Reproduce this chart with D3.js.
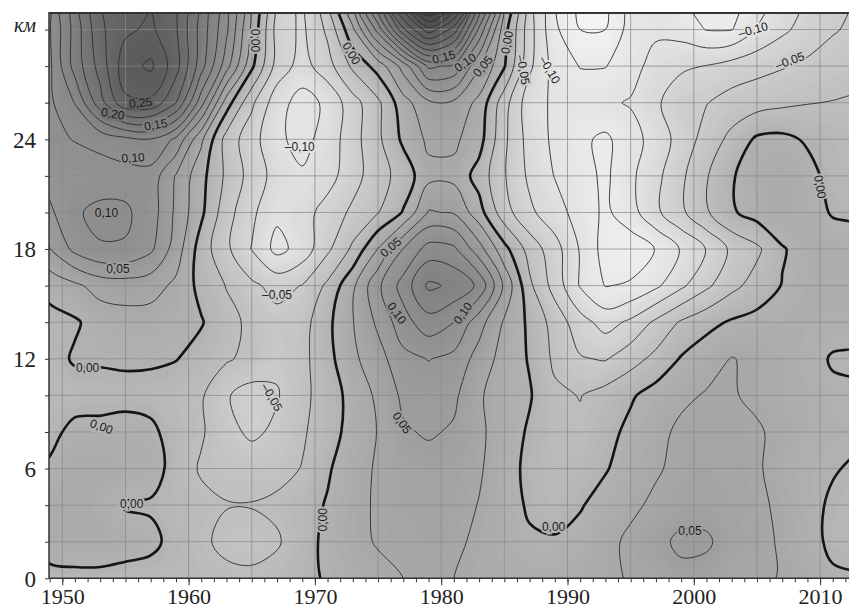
<!DOCTYPE html>
<html>
<head>
<meta charset="utf-8">
<script src="https://d3js.org/d3.v7.min.js"></script>
<style>
body { margin: 0; background: #fff; }
svg { display: block; }
</style>
</head>
<body>
<svg width="849" height="609"></svg>
<script>
// grid of anomaly values: one row per height (km), one column per year
const years = [1949, 1951, 1953, 1955, 1957, 1959, 1961, 1963, 1965, 1967, 1969, 1971, 1973, 1975, 1977, 1979, 1981,
               1983, 1985, 1987, 1989, 1991, 1993, 1995, 1997, 1999, 2001, 2003, 2005, 2007, 2009, 2011, 2013];
const heights = [0, 2, 4, 6, 8, 10, 12, 14, 16, 18, 20, 22, 24, 26, 28, 30, 32];

const h00 = [-0.010,-0.008,-0.008,-0.010,-0.010,-0.012,-0.015,-0.018,-0.020,-0.015,-0.005,0.002,0.012,0.018,0.025,0.027,0.025,0.018,0.015,0.013,0.012,0.015,0.020,0.027,0.032,0.042,0.040,0.030,0.028,0.024,0.015,0.004,0.002];
const h02 = [0.015,0.018,0.018,0.012,0.006,-0.008,-0.020,-0.032,-0.034,-0.028,-0.010,0.006,0.018,0.027,0.033,0.035,0.030,0.020,0.012,0.003,0.003,0.008,0.018,0.030,0.042,0.056,0.054,0.038,0.032,0.022,0.010,-0.006,-0.010];
const h04 = [0.015,0.020,0.012,-0.002,-0.003,-0.012,-0.018,-0.024,-0.024,-0.020,-0.010,0.002,0.018,0.028,0.035,0.038,0.035,0.024,0.010,-0.003,-0.012,-0.002,0.010,0.020,0.030,0.038,0.040,0.035,0.030,0.020,0.008,-0.004,-0.010];
const h06 = [0.004,0.018,0.020,0.015,0.012,-0.010,-0.028,-0.032,-0.035,-0.033,-0.024,-0.003,0.015,0.028,0.036,0.040,0.038,0.028,0.010,-0.006,-0.015,-0.012,-0.002,0.012,0.022,0.032,0.035,0.032,0.028,0.015,0.006,0.002,-0.004];
const h08 = [-0.008,0.008,0.008,0.010,0.006,-0.012,-0.022,-0.042,-0.055,-0.045,-0.028,-0.012,0.010,0.026,0.047,0.053,0.047,0.030,0.012,-0.003,-0.018,-0.020,-0.008,0.006,0.018,0.030,0.034,0.032,0.028,0.018,0.010,0.006,0.004];
const h10 = [-0.012,-0.012,-0.010,-0.008,-0.010,-0.015,-0.022,-0.048,-0.060,-0.052,-0.032,-0.012,0.008,0.030,0.055,0.060,0.055,0.028,0.012,0.002,-0.020,-0.026,-0.015,-0.003,0.010,0.020,0.027,0.027,0.020,0.015,0.010,0.004,0.003];
const h12 = [-0.010,0.003,0.003,0.004,0.004,0.001,-0.010,-0.022,-0.032,-0.045,-0.032,-0.008,0.020,0.040,0.068,0.076,0.068,0.040,0.015,-0.002,-0.030,-0.048,-0.052,-0.035,-0.018,0.002,0.015,0.026,0.020,0.015,0.008,-0.002,-0.004];
const h14 = [-0.008,-0.003,0.010,0.014,0.014,0.010,0.002,-0.018,-0.030,-0.042,-0.035,-0.006,0.024,0.055,0.090,0.115,0.100,0.060,0.022,-0.005,-0.035,-0.065,-0.085,-0.070,-0.045,-0.022,-0.008,0.003,0.008,0.010,0.010,0.009,0.008];
const h16 = [0.008,0.020,0.035,0.038,0.035,0.020,-0.008,-0.026,-0.045,-0.058,-0.049,-0.020,0.020,0.070,0.110,0.155,0.145,0.120,0.045,-0.020,-0.060,-0.102,-0.126,-0.122,-0.105,-0.080,-0.055,-0.032,-0.015,0.001,0.010,0.012,0.012];
const h18 = [0.049,0.082,0.098,0.098,0.080,0.038,-0.012,-0.045,-0.076,-0.108,-0.090,-0.055,-0.020,0.026,0.076,0.110,0.105,0.060,0.008,-0.035,-0.065,-0.102,-0.135,-0.140,-0.124,-0.098,-0.074,-0.045,-0.030,-0.002,0.010,0.012,0.012];
const h20 = [0.070,0.097,0.106,0.104,0.088,0.045,0.005,-0.040,-0.070,-0.095,-0.085,-0.065,-0.045,-0.026,0.002,0.052,0.048,0.010,-0.040,-0.070,-0.090,-0.110,-0.130,-0.110,-0.080,-0.055,-0.028,-0.003,0.010,0.018,0.010,-0.002,-0.006];
const h22 = [0.085,0.088,0.088,0.090,0.090,0.048,0.008,-0.030,-0.060,-0.085,-0.097,-0.085,-0.060,-0.035,-0.015,0.018,0.018,-0.010,-0.048,-0.080,-0.101,-0.115,-0.130,-0.105,-0.082,-0.055,-0.027,-0.002,0.012,0.018,0.008,-0.008,-0.012];
const h24 = [0.095,0.101,0.108,0.118,0.124,0.095,0.030,-0.035,-0.065,-0.095,-0.108,-0.090,-0.060,-0.030,0.005,0.030,0.030,0.010,-0.045,-0.085,-0.105,-0.120,-0.130,-0.110,-0.090,-0.065,-0.040,-0.018,0.004,0.006,-0.003,-0.010,-0.014];
const h26 = [0.095,0.126,0.190,0.245,0.245,0.201,0.110,0.012,-0.045,-0.090,-0.110,-0.095,-0.060,-0.030,0.015,0.045,0.045,0.018,-0.040,-0.090,-0.104,-0.110,-0.104,-0.098,-0.080,-0.056,-0.051,-0.040,-0.035,-0.030,-0.026,-0.024,-0.022];
const h28 = [0.095,0.160,0.210,0.265,0.280,0.235,0.160,0.085,0.005,-0.060,-0.085,-0.060,-0.020,0.010,0.060,0.130,0.120,0.052,0.002,-0.070,-0.110,-0.126,-0.126,-0.110,-0.090,-0.080,-0.074,-0.065,-0.058,-0.052,-0.045,-0.040,-0.036];
const h30 = [0.098,0.160,0.220,0.245,0.255,0.228,0.165,0.105,0.020,-0.060,-0.080,-0.045,0.020,0.110,0.220,0.290,0.240,0.120,0.010,-0.065,-0.120,-0.150,-0.150,-0.115,-0.105,-0.110,-0.126,-0.126,-0.099,-0.080,-0.065,-0.052,-0.045];
const h32 = [0.100,0.165,0.226,0.240,0.245,0.228,0.165,0.105,0.026,-0.060,-0.085,-0.030,0.070,0.200,0.330,0.450,0.360,0.200,0.040,-0.070,-0.126,-0.160,-0.160,-0.115,-0.110,-0.126,-0.140,-0.140,-0.115,-0.095,-0.074,-0.058,-0.049];

// axis ticks and grid
const kmTicks = [0, 2, 4, 6, 8, 10, 12, 14, 16, 18, 20, 22, 24, 26, 28, 30];
const kmLabels = [0, 6, 12, 18, 24];
const yearMinor = [1949, 1950, 1951, 1952, 1953, 1954, 1955, 1956, 1957, 1958, 1959, 1960, 1961, 1962, 1963, 1964, 1965,
                   1966, 1967, 1968, 1969, 1970, 1971, 1972, 1973, 1974, 1975, 1976, 1977, 1978, 1979, 1980, 1981, 1982,
                   1983, 1984, 1985, 1986, 1987, 1988, 1989, 1990, 1991, 1992, 1993, 1994, 1995, 1996, 1997, 1998, 1999,
                   2000, 2001, 2002, 2003, 2004, 2005, 2006, 2007, 2008, 2009, 2010, 2011, 2012];
const yearLabels = [1950, 1960, 1970, 1980, 1990, 2000, 2010];
const yearGrid = [1950, 1955, 1960, 1965, 1970, 1975, 1980, 1985, 1990, 1995, 2000, 2005, 2010];
const kmGrid = [2, 4, 6, 8, 10, 12, 14, 16, 18, 20, 22, 24, 26, 28, 30];

// contour labels: year, km, value, rotation
const contourLabels = [
  [1956.2, 26.0, 0.25, -6], [1954.0, 25.4, 0.20, 10], [1957.4, 24.8, 0.15, -10], [1955.6, 23.0, 0.10, -4],
  [1965.3, 29.4, 0.00, 90], [1953.5, 20.0, 0.10, 0], [1954.4, 16.9, 0.05, 0], [1952.0, 11.5, 0.00, 0],
  [1953.1, 8.3, 0.00, 20], [1955.5, 4.1, 0.00, 0], [1967.0, 15.5, -0.05, 0], [1966.6, 9.9, -0.05, 60],
  [1968.8, 23.6, -0.10, 0], [1972.9, 28.7, 0.00, 60], [1980.2, 28.5, 0.15, -15], [1981.9, 28.2, 0.10, -35],
  [1983.3, 28.0, 0.05, -50], [1985.2, 29.3, 0.00, -80], [1986.5, 27.8, -0.05, 80], [1988.6, 27.8, -0.10, 60],
  [2004.7, 30.0, -0.10, -15], [2007.6, 28.3, -0.05, -20], [2010.0, 21.4, 0.00, 80], [1976.0, 18.1, 0.05, -40],
  [1976.5, 14.5, 0.10, 55], [1981.7, 14.5, 0.10, -55], [1976.9, 8.5, 0.05, 55], [1970.6, 3.2, 0.00, -90],
  [1988.9, 2.8, 0.00, 0], [1999.7, 2.6, 0.05, 0]
];

const rows = [h00, h02, h04, h06, h08, h10, h12, h14, h16, h18, h20, h22, h24, h26, h28, h30, h32];
const nx = years.length, ny = heights.length;
const values = rows.flat();

const plotL = 49, plotT = 13, plotR = 849, plotB = 578.3;
const x = d3.scaleLinear().domain([1950, 2010]).range([62.3, 820.1]);
const y = d3.scaleLinear().domain([0, 24]).range([578.3, 139.3]);
// grid index -> data coords (d3.contours puts value i at i + 0.5)
const gx = d3.scaleLinear().domain([0.5, nx - 0.5]).range([years[0], years[nx - 1]]);
const gy = d3.scaleLinear().domain([0.5, ny - 0.5]).range([heights[0], heights[ny - 1]]);

const shade = d3.scaleLinear()
  .domain([-0.16, -0.1, -0.05, 0, 0.05, 0.1, 0.15, 0.25, 0.36])
  .range([245, 226, 203, 178, 158, 143, 129, 96, 70]).clamp(true);
const gray = v => { const g = Math.round(shade(v)); return `rgb(${g},${g},${g})`; };

const svg = d3.select('svg');
svg.append('defs').append('clipPath').attr('id', 'clip').append('rect')
  .attr('x', plotL).attr('y', plotT).attr('width', plotR - plotL).attr('height', plotB - plotT);
const plot = svg.append('g').attr('clip-path', 'url(#clip)');

const smooth = d3.line().curve(d3.curveCatmullRomClosed.alpha(0.5));
function pathOf(geom) {
  let d = '';
  geom.coordinates.forEach(poly => poly.forEach(ring => {
    let pts = ring.map(([a, b]) => [x(gx(a)), y(gy(b))]);
    const f = pts[0], l = pts[pts.length - 1];
    if (pts.length > 1 && f[0] === l[0] && f[1] === l[1]) pts = pts.slice(0, -1);
    if (pts.length > 2) d += smooth(pts);
  }));
  return d;
}

const contours = d3.contours().size([nx, ny]);

// filled shading
plot.append('rect').attr('x', plotL).attr('y', plotT).attr('width', plotR - plotL).attr('height', plotB - plotT)
  .attr('fill', gray(-0.2));
const fillLevels = d3.range(-40, 100).map(i => i * 0.005);
plot.append('g').selectAll('path')
  .data(fillLevels.map(t => contours.contour(values, t)))
  .join('path')
  .attr('d', pathOf)
  .attr('fill', d => gray(d.value + 0.0025))
  .attr('fill-rule', 'evenodd');

// grid
const grid = plot.append('g').attr('stroke', '#8a8a8a').attr('stroke-opacity', 0.75).attr('stroke-width', 1);
grid.selectAll('.gv').data(yearGrid).join('line')
  .attr('x1', d => x(d)).attr('x2', d => x(d)).attr('y1', plotT).attr('y2', plotB);
grid.selectAll('.gh').data(kmGrid).join('line')
  .attr('x1', plotL).attr('x2', plotR).attr('y1', d => y(d)).attr('y2', d => y(d));

// contour lines
const lineLevels = d3.range(-8, 19).map(i => +(i * 0.025).toFixed(3));
plot.append('g').attr('fill', 'none').selectAll('path')
  .data(lineLevels.map(t => contours.contour(values, t)))
  .join('path')
  .attr('d', pathOf)
  .attr('stroke', d => d.value === 0 ? '#151515' : '#2e2e2e')
  .attr('stroke-width', d => d.value === 0 ? 2.6 : 0.9)
  .attr('stroke-linejoin', 'round');

// contour labels
const fmt = v => (v < 0 ? '–' : '') + Math.abs(v).toFixed(2).replace('.', ',');
plot.append('g').selectAll('text').data(contourLabels).join('text')
  .attr('transform', d => `translate(${x(d[0])},${y(d[1])}) rotate(${d[3]})`)
  .attr('text-anchor', 'middle').attr('dy', '0.35em')
  .attr('font-family', 'Liberation Sans, Arial, sans-serif').attr('font-size', 12)
  .attr('fill', '#1c1c1c')
  .attr('stroke', d => gray(d[2])).attr('stroke-width', 4).attr('paint-order', 'stroke')
  .text(d => fmt(d[2]));

// frame
svg.append('line').attr('x1', plotL).attr('x2', plotR).attr('y1', plotT).attr('y2', plotT)
  .attr('stroke', '#333').attr('stroke-width', 2);
svg.append('line').attr('x1', plotL).attr('x2', plotL).attr('y1', plotT - 1).attr('y2', plotB)
  .attr('stroke', '#333').attr('stroke-width', 1.5);
svg.append('line').attr('x1', plotL).attr('x2', plotR).attr('y1', plotB).attr('y2', plotB)
  .attr('stroke', '#333').attr('stroke-width', 1.5);

// left axis
const yAx = svg.append('g').attr('transform', `translate(${plotL},0)`)
  .call(d3.axisLeft(y).tickValues(kmTicks).tickSize(4).tickPadding(9)
    .tickFormat(d => d === 30 ? 'км' : (kmLabels.includes(d) ? d : '')));
yAx.select('.domain').remove();
yAx.selectAll('line').attr('stroke', '#333');
yAx.selectAll('text').attr('font-family', 'Liberation Serif, Times New Roman, serif')
  .attr('font-size', 23).attr('fill', '#222').attr('dy', '0.34em');
yAx.selectAll('.tick').filter(d => d === 30).select('text')
  .attr('font-style', 'italic').attr('font-size', 20).attr('dy', '0.1em');

// bottom axis
const xMinor = svg.append('g').attr('transform', `translate(0,${plotB})`)
  .call(d3.axisBottom(x).tickValues(yearMinor).tickSize(4).tickFormat(''));
xMinor.select('.domain').remove();
xMinor.selectAll('line').attr('stroke', '#333');
const xMajor = svg.append('g').attr('transform', `translate(0,${plotB})`)
  .call(d3.axisBottom(x).tickValues(yearLabels).tickSize(7).tickFormat(d3.format('d')));
xMajor.select('.domain').remove();
xMajor.selectAll('line').attr('stroke', '#333');
xMajor.selectAll('text').attr('font-family', 'Liberation Serif, Times New Roman, serif')
  .attr('font-size', 22).attr('fill', '#222').attr('y', 25.5).attr('dy', 0);
</script>
</body>
</html>
